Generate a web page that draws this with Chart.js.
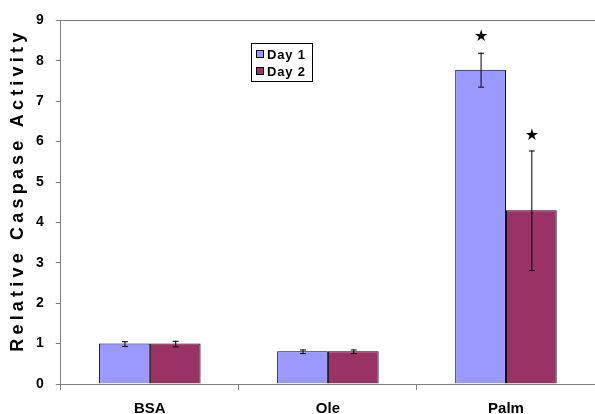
<!DOCTYPE html>
<html><head><meta charset="utf-8">
<script src="https://cdn.jsdelivr.net/npm/chart.js@4.4.0/dist/chart.umd.min.js"></script>
<style>html,body{margin:0;padding:0;background:#fff}#wrap{width:595px;height:414px}</style>
</head><body><div id="wrap"><canvas id="c" width="595" height="414"></canvas></div>
<script>
const categories = ['BSA', 'Ole', 'Palm'];
const seriesNames = ['Day 1', 'Day 2'];
const day1 = [1.0, 0.81, 7.78];
const day2 = [1.0, 0.81, 4.30];
const day1Err = [0.06, 0.045, 0.42];
const day2Err = [0.07, 0.045, 1.48];
const day1Star = [null, null, 8.6];
const day2Star = [null, null, 6.15];
const yTicks = [0,1,2,3,4,5,6,7,8,9];
const yTitle = 'Relative Caspase Activity';

const errs = [day1Err, day2Err];
const stars = [day1Star, day2Star];
const FONT = '"Liberation Sans", Arial, sans-serif';

const extras = {
  id: 'extras',
  afterDatasetsDraw(chart) {
    const ctx = chart.ctx, y = chart.scales.y;
    chart.data.datasets.forEach((ds, di) => {
      const meta = chart.getDatasetMeta(di);
      meta.data.forEach((bar, i) => {
        const v = ds.data[i], e = errs[di][i];
        const top = y.getPixelForValue(v + e), bot = y.getPixelForValue(v - e);
        ctx.save();
        ctx.strokeStyle = '#000'; ctx.lineWidth = 1;
        ctx.beginPath();
        ctx.moveTo(bar.x + 0.5, top); ctx.lineTo(bar.x + 0.5, bot);
        ctx.moveTo(bar.x - 2.5, top + 0.5); ctx.lineTo(bar.x + 3.5, top + 0.5);
        ctx.moveTo(bar.x - 2.5, bot + 0.5); ctx.lineTo(bar.x + 3.5, bot + 0.5);
        ctx.stroke();
        const s = stars[di][i];
        if (s != null) {
          ctx.fillStyle = '#000';
          ctx.font = '16px "DejaVu Sans", sans-serif';
          ctx.textAlign = 'center'; ctx.textBaseline = 'middle';
          ctx.fillText('\u2605', bar.x + 0.5, y.getPixelForValue(s));
        }
        ctx.restore();
      });
    });
  },
  afterDraw(chart) {
    const ctx = chart.ctx, y = chart.scales.y;
    // y axis title
    ctx.save();
    ctx.translate(18, (y.top + y.bottom) / 2 - 12);
    ctx.rotate(-Math.PI / 2);
    ctx.font = 'bold 18px ' + FONT;
    ctx.letterSpacing = '4.2px';
    ctx.fillStyle = '#000';
    ctx.textAlign = 'center'; ctx.textBaseline = 'middle';
    ctx.fillText(yTitle, 0, 0);
    ctx.restore();
    // legend
    ctx.save();
    const lx = 251, ly = 43, lw = 61, lh = 38;
    ctx.fillStyle = '#fff'; ctx.fillRect(lx, ly, lw, lh);
    ctx.strokeStyle = '#000'; ctx.lineWidth = 1;
    ctx.strokeRect(lx + 0.5, ly + 0.5, lw, lh);
    chart.data.datasets.forEach((ds, di) => {
      const cy = ly + 11 + di * 17;
      ctx.fillStyle = ds.backgroundColor;
      ctx.fillRect(lx + 5, cy - 4, 8, 8);
      ctx.strokeStyle = '#000';
      ctx.strokeRect(lx + 5.5, cy - 3.5, 7, 7);
      ctx.fillStyle = '#000';
      ctx.font = 'bold 13px ' + FONT;
      ctx.letterSpacing = '0.8px';
      ctx.textAlign = 'left'; ctx.textBaseline = 'middle';
      ctx.fillText(ds.label, lx + 16, cy + 1);
    });
    ctx.restore();
  }
};

new Chart(document.getElementById('c'), {
  type: 'bar',
  data: {
    labels: categories,
    datasets: [
      { label: seriesNames[0], data: day1, backgroundColor: '#9999FF', borderColor: '#000', borderWidth: 1 },
      { label: seriesNames[1], data: day2, backgroundColor: '#993366', borderColor: '#000', borderWidth: 1 }
    ]
  },
  options: {
    responsive: false, animation: false,
    devicePixelRatio: 1,
    layout: { padding: { left: 24, top: 20, right: -2, bottom: -14 } },
    plugins: { legend: { display: false }, tooltip: { enabled: false } },
    datasets: { bar: { categoryPercentage: 0.57, barPercentage: 1.0 } },
    scales: {
      x: {
        offset: true,
        grid: { offset: true, drawOnChartArea: false, color: '#808080', tickLength: 6 },
        border: { color: '#808080' },
        ticks: { color: '#000', font: { family: FONT, size: 15, weight: 'bold' }, padding: 10 }
      },
      y: {
        min: 0, max: 9,
        afterBuildTicks(axis) { axis.ticks = yTicks.map(v => ({ value: v })); },
        grid: {
          color: ctx => ctx.tick && ctx.tick.value === 9 ? '#808080' : 'rgba(0,0,0,0)',
          tickColor: '#808080', tickLength: 5
        },
        border: { color: '#808080' },
        ticks: { color: '#000', font: { family: FONT, size: 14, weight: 'bold' }, padding: 12 }
      }
    }
  },
  plugins: [extras]
});
</script></body></html>
